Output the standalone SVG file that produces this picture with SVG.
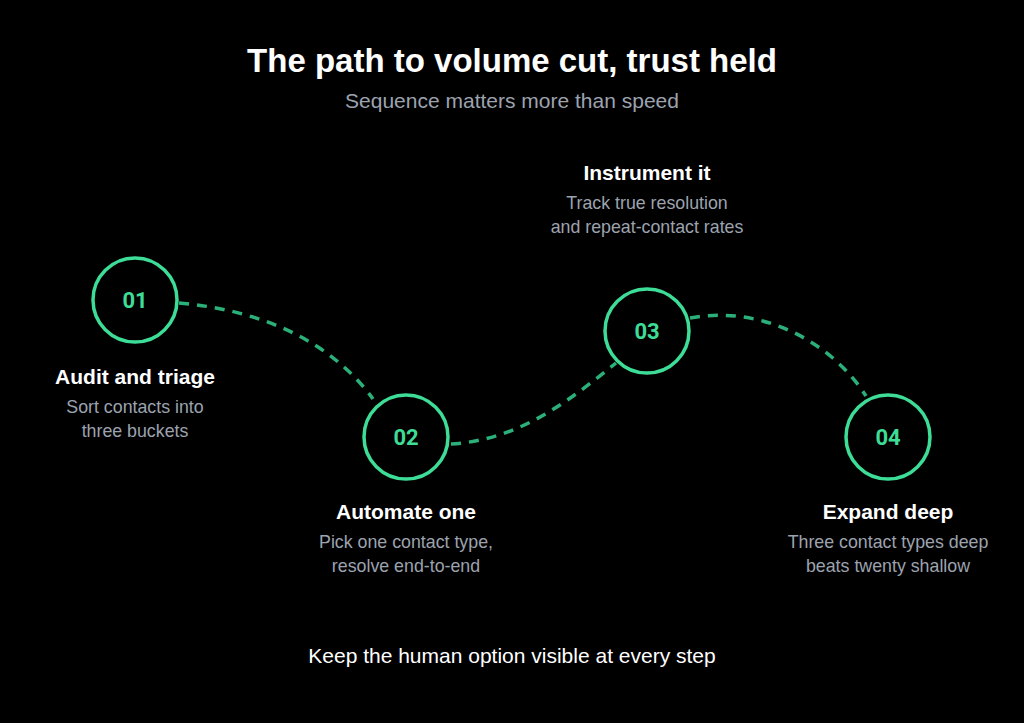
<svg xmlns="http://www.w3.org/2000/svg" width="1024" height="723" viewBox="0 0 1024 723">
<style>
.t{font-family:"Liberation Sans",Arial,sans-serif;text-anchor:middle}
.title{font-size:33px;font-weight:bold;fill:#ffffff}
.sub{font-size:21px;fill:#9ca3af}
.h{font-size:21px;font-weight:bold;fill:#ffffff}
.d{font-size:17.8px;fill:#9ca3af}
.foot{font-size:21px;fill:#ffffff}
.num{font-family:Roboto,"Liberation Sans",sans-serif;font-size:22px;font-weight:bold;fill:#3ddc97;text-anchor:middle}
.ring{fill:#000000;stroke:#3ddc97;stroke-width:3.5}
.link{fill:none;stroke:#2bb07a;stroke-width:3.5;stroke-dasharray:10 8}
</style>
<rect width="1024" height="723" fill="#000000"/>
<text class="t title" x="512" y="72">The path to volume cut, trust held</text>
<text class="t sub" x="512" y="108">Sequence matters more than speed</text>
<g id="connectors">
<path class="link" d="M179,303 C260,310 330,340 373,399"/>
<path class="link" d="M451,444 C520,440 570,400 616,363"/>
<path class="link" d="M690,318 C760,305 830,340 866,396"/>
</g>
<g id="step1">
<circle class="ring" cx="135" cy="300" r="42"/>
<text class="num" x="135" y="308">01</text>
<text class="t h" x="135" y="384">Audit and triage</text>
<text class="t d" x="135" y="413">Sort contacts into</text>
<text class="t d" x="135" y="437">three buckets</text>
</g>
<g id="step2">
<circle class="ring" cx="406" cy="437" r="42"/>
<text class="num" x="406" y="445">02</text>
<text class="t h" x="406" y="519">Automate one</text>
<text class="t d" x="406" y="548">Pick one contact type,</text>
<text class="t d" x="406" y="572">resolve end-to-end</text>
</g>
<g id="step3">
<circle class="ring" cx="647" cy="331" r="42"/>
<text class="num" x="647" y="339">03</text>
<text class="t h" x="647" y="180">Instrument it</text>
<text class="t d" x="647" y="209">Track true resolution</text>
<text class="t d" x="647" y="233">and repeat-contact rates</text>
</g>
<g id="step4">
<circle class="ring" cx="888" cy="437" r="42"/>
<text class="num" x="888" y="445">04</text>
<text class="t h" x="888" y="519">Expand deep</text>
<text class="t d" x="888" y="548">Three contact types deep</text>
<text class="t d" x="888" y="572">beats twenty shallow</text>
</g>
<text class="t foot" x="512" y="663">Keep the human option visible at every step</text>
</svg>
